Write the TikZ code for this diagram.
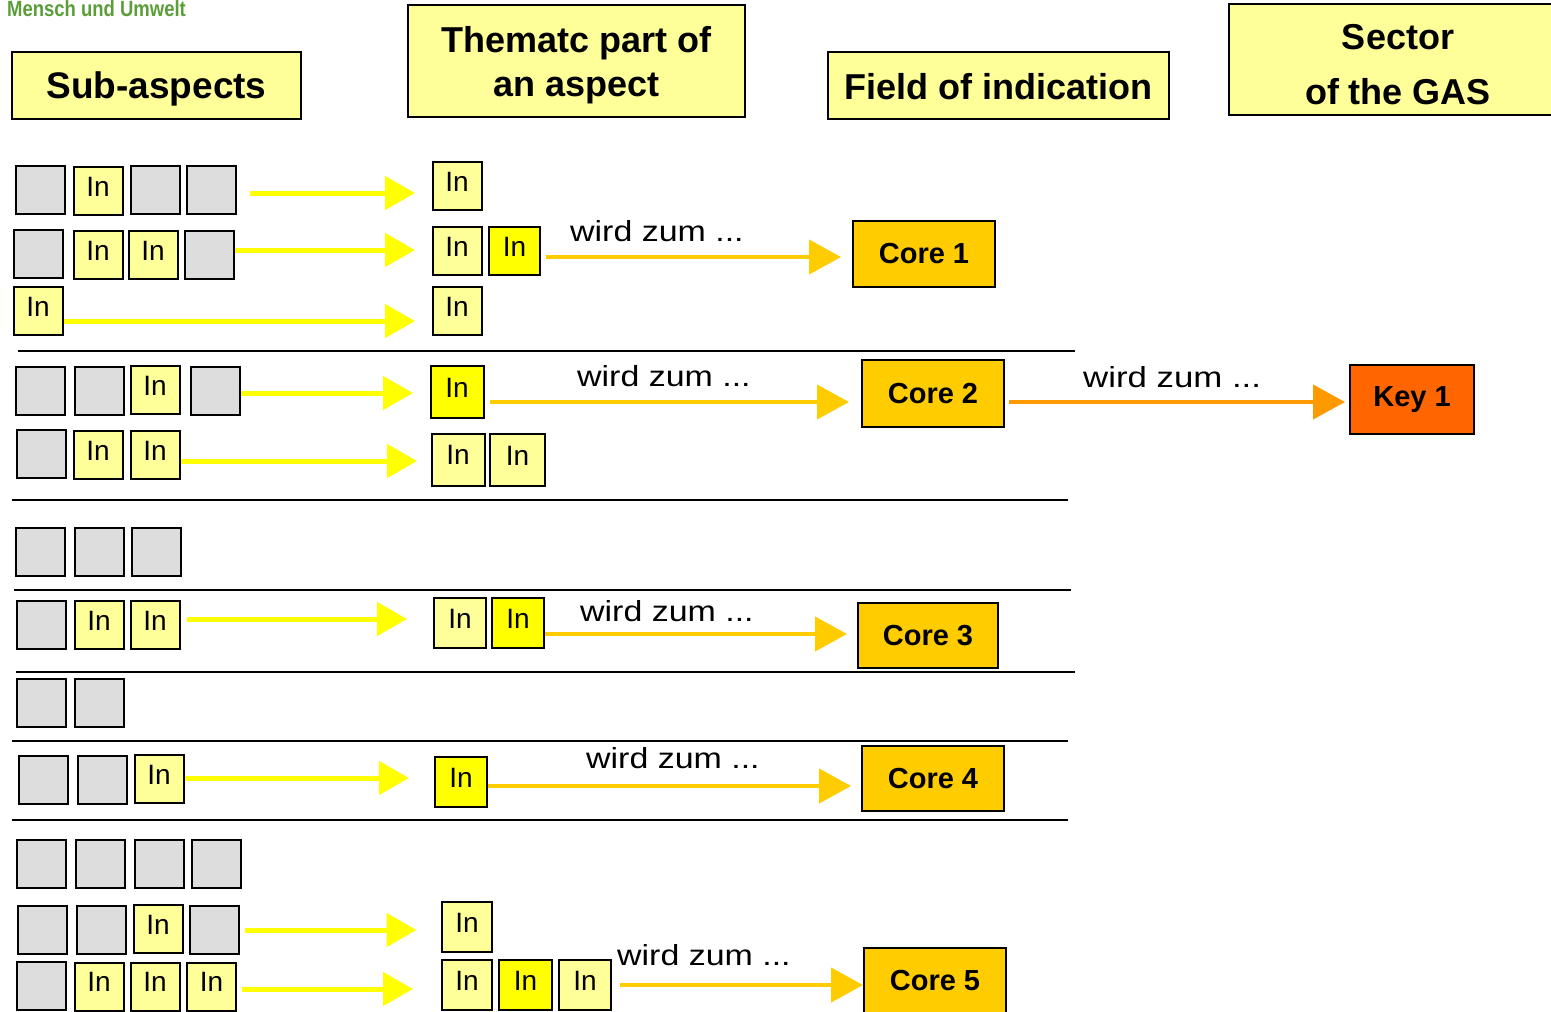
\documentclass[tikz,border=0pt]{standalone}
\usepackage{fontspec}
\setmainfont{Liberation Sans}
\usetikzlibrary{arrows.meta,calc}
\definecolor{cellgrey}{HTML}{DDDDDD}
\definecolor{paleyellow}{HTML}{FFFF99}
\definecolor{brightyellow}{HTML}{FFFF00}
\definecolor{gold}{HTML}{FFCC00}
\definecolor{amber}{HTML}{FF9900}
\definecolor{keyorange}{HTML}{FF6600}
\definecolor{logogreen}{HTML}{5A9E38}
\tikzset{
  cell/.style={draw, line width=2pt, minimum width=49pt, minimum height=48pt,
    inner sep=0pt, font=\fontsize{28}{30}\selectfont, text height=20pt, text depth=10pt},
  greycell/.style={cell, fill=cellgrey},
  palecell/.style={cell, fill=paleyellow},
  brightcell/.style={cell, fill=brightyellow},
  header/.style={draw, line width=2pt, fill=paleyellow, inner sep=0pt},
  headtext/.style={inner sep=0pt, align=center, font=\bfseries\fontsize{36}{44}\selectfont},
  corebox/.style={draw, line width=2pt, fill=gold, minimum width=142pt, minimum height=66pt,
    inner sep=0pt, font=\bfseries\fontsize{29}{32}\selectfont},
  feed/.style={draw=brightyellow, line width=5pt, -{Triangle[length=30pt,width=33pt]}},
  becomes/.style={draw=gold, line width=4.5pt, -{Triangle[length=32pt,width=34pt]}},
  promote/.style={draw=amber, line width=4.5pt, -{Triangle[length=32pt,width=34pt]}},
  tag/.style={anchor=base west, inner sep=0pt, font=\fontsize{29}{32}\selectfont},
  divider/.style={line width=2.5pt},
}
\newcommand{\wz}{\scalebox{1.17}[1]{wird zum ...}}
\begin{document}
\begin{tikzpicture}[x=1pt,y=-1pt]
\useasboundingbox (0,0) rectangle (1551,1012);
\fill[white] (0,0) rectangle (1551,1012);

% logo text in the corner
\node[anchor=base west, inner sep=0pt, text=logogreen, font=\bfseries\fontsize{22}{24}\selectfont]
  (logo) at (7,16) {\scalebox{0.84}[1]{Mensch und Umwelt}};

% column headers
\node[header, minimum width=289pt, minimum height=67pt] (hsub) at (156.5,85.5) {};
\node[headtext, font=\bfseries\fontsize{37}{44}\selectfont] (hsub-t) at ([yshift=-3pt]hsub.center) {Sub-aspects};
\node[header, minimum width=337pt, minimum height=112pt] (htheme) at (576.5,61) {};
\node[headtext] (htheme-t) at ([yshift=-4pt]htheme.center) {Thematc part of\\an aspect};
\node[header, minimum width=341pt, minimum height=67pt] (hfield) at (998.5,85.5) {};
\node[headtext] (hfield-t) at ([yshift=-1pt]hfield.center) {Field of indication};
\node[header, minimum width=338pt, minimum height=111pt] (hsector) at (1398,59.5) {};
\node[headtext, font=\bfseries\fontsize{36}{55}\selectfont] (hsector-t) at ([yshift=-5pt]hsector.center)
  {Sector\\of the GAS};

% ---- block 1 ----
\node[greycell] (a1) at (40,190) {};
\node[palecell] (a2) at (98,191) {In};
\node[greycell] (a3) at (155,190) {};
\node[greycell] (a4) at (211,190) {};
\node[palecell] (ta) at (457,186) {In};

\node[greycell] (b1) at (38,254) {};
\node[palecell] (b2) at (98,255) {In};
\node[palecell] (b3) at (153,255) {In};
\node[greycell] (b4) at (209,255) {};
\node[palecell] (tb1) at (457,251) {In};
\node[brightcell, minimum width=51pt] (tb2) at (514.5,251) {In};

\node[palecell] (c1) at (38,311) {In};
\node[palecell] (tc) at (457,311) {In};

\node[corebox] (core1) at (924,254) {Core 1};

\draw[feed, shorten <=13.5pt, shorten >=16.5pt] (a4.east |- 0,193) -- (ta.west |- 0,193);
\draw[feed, shorten >=16.5pt] (b4.east |- 0,250) -- (tb1.west |- 0,250);
\draw[feed, shorten >=16.5pt] (c1.east |- 0,321) -- (tc.west |- 0,321);
\draw[becomes, shorten <=5pt, shorten >=11pt] (tb2.east |- 0,257) -- (core1.west |- 0,257);
\node[tag] (w1) at (570,241) {\wz};

\draw[divider] (18,351) -- (1075,351);

% ---- block 2 ----
\node[greycell] (d1) at (40,391) {};
\node[greycell] (d2) at (99,391) {};
\node[palecell] (d3) at (155,390) {In};
\node[greycell] (d4) at (215,391) {};
\node[brightcell, minimum width=53pt, minimum height=52pt] (td) at (457,392) {In};

\node[greycell] (e1) at (41,454) {};
\node[palecell] (e2) at (98,455) {In};
\node[palecell] (e3) at (155,455) {In};
\node[palecell, minimum width=53pt, minimum height=52pt] (te1) at (458,459.5) {In};
\node[palecell, minimum width=55pt, minimum height=52pt] (te2) at (517.5,460) {In};

\node[corebox, minimum height=67pt] (core2) at (933,393.5) {Core 2};
\node[corebox, fill=keyorange, minimum width=124pt, minimum height=69pt] (key1) at (1412,399.5) {Key 1};

\draw[feed, shorten >=16.5pt] (d4.east |- 0,393) -- (td.west |- 0,393);
\draw[feed, shorten >=13.5pt] (e3.east |- 0,461) -- (te1.west |- 0,461);
\draw[becomes, shorten <=5.5pt, shorten >=12pt] (td.east |- 0,402) -- (core2.west |- 0,402);
\node[tag] (w2) at (577,386) {\wz};
\draw[promote, shorten <=4pt, shorten >=4pt] (core2.east |- 0,402) -- (key1.west |- 0,402);
\node[tag] (w3) at (1083,387) {\scalebox{1.2}[1]{wird zum ...}};

\draw[divider] (12,500) -- (1068,500);

% ---- block 3 ----
\node[greycell] (f1) at (40,552) {};
\node[greycell] (f2) at (99,552) {};
\node[greycell] (f3) at (156,552) {};

\draw[divider] (14,590) -- (1071,590);

% ---- block 4 ----
\node[greycell] (g1) at (41,625) {};
\node[palecell] (g2) at (99,625) {In};
\node[palecell] (g3) at (155,625) {In};
\node[palecell, minimum width=52pt, minimum height=50pt] (tg1) at (460,623) {In};
\node[brightcell, minimum width=52pt, minimum height=50pt] (tg2) at (518,623) {In};
\node[corebox, minimum width=140pt, minimum height=65pt] (core3) at (928,635.5) {Core 3};

\draw[feed, shorten <=6.5pt, shorten >=26pt] (g3.east |- 0,619) -- (tg1.west |- 0,619);
\draw[becomes, shorten >=10pt] (tg2.east |- 0,634) -- (core3.west |- 0,634);
\node[tag] (w4) at (580,621) {\wz};

\draw[divider] (16,672) -- (1075,672);

% ---- block 5 ----
\node[greycell] (h1) at (41,703) {};
\node[greycell] (h2) at (99.5,703) {};

\draw[divider] (12,741) -- (1068,741);

% ---- block 6 ----
\node[greycell] (i1) at (43,780) {};
\node[greycell] (i2) at (102,780) {};
\node[palecell] (i3) at (159,779) {In};
\node[brightcell, minimum width=52pt, minimum height=50pt] (ti) at (461,782) {In};
\node[corebox, minimum height=65pt] (core4) at (933,778.5) {Core 4};

\draw[feed, shorten >=25pt] (i3.east |- 0,778) -- (ti.west |- 0,778);
\draw[becomes, shorten >=10pt] (ti.east |- 0,786) -- (core4.west |- 0,786);
\node[tag] (w5) at (586,768) {\wz};

\draw[divider] (12,820) -- (1068,820);

% ---- block 7 ----
\node[greycell] (j1) at (41,864) {};
\node[greycell] (j2) at (100,864) {};
\node[greycell] (j3) at (159,864) {};
\node[greycell] (j4) at (216,864) {};

\node[greycell] (k1) at (42,930) {};
\node[greycell] (k2) at (101,930) {};
\node[palecell] (k3) at (158,929) {In};
\node[greycell] (k4) at (214,930) {};
\node[palecell, minimum width=50pt, minimum height=50pt] (tk) at (467,927) {In};

\node[greycell] (l1) at (41,986) {};
\node[palecell] (l2) at (99,986.5) {In};
\node[palecell] (l3) at (155,986.5) {In};
\node[palecell] (l4) at (211.5,986.5) {In};
\node[palecell, minimum width=50pt, minimum height=50pt] (tl1) at (467,985) {In};
\node[brightcell, minimum width=53pt, minimum height=50pt] (tl2) at (525.5,985) {In};
\node[palecell, minimum width=52pt, minimum height=50pt] (tl3) at (585,985) {In};
\node[corebox] (core5) at (935,981) {Core 5};

\draw[feed, shorten <=5.5pt, shorten >=24.5pt] (k4.east |- 0,930) -- (tk.west |- 0,930);
\draw[feed, shorten <=4.5pt, shorten >=28pt] (l4.east |- 0,989) -- (tl1.west |- 0,989);
\draw[becomes, shorten <=8pt] (tl3.east |- 0,985) -- (core5.west |- 0,985);
\node[tag] (w6) at (617,965) {\wz};
\end{tikzpicture}
\end{document}
